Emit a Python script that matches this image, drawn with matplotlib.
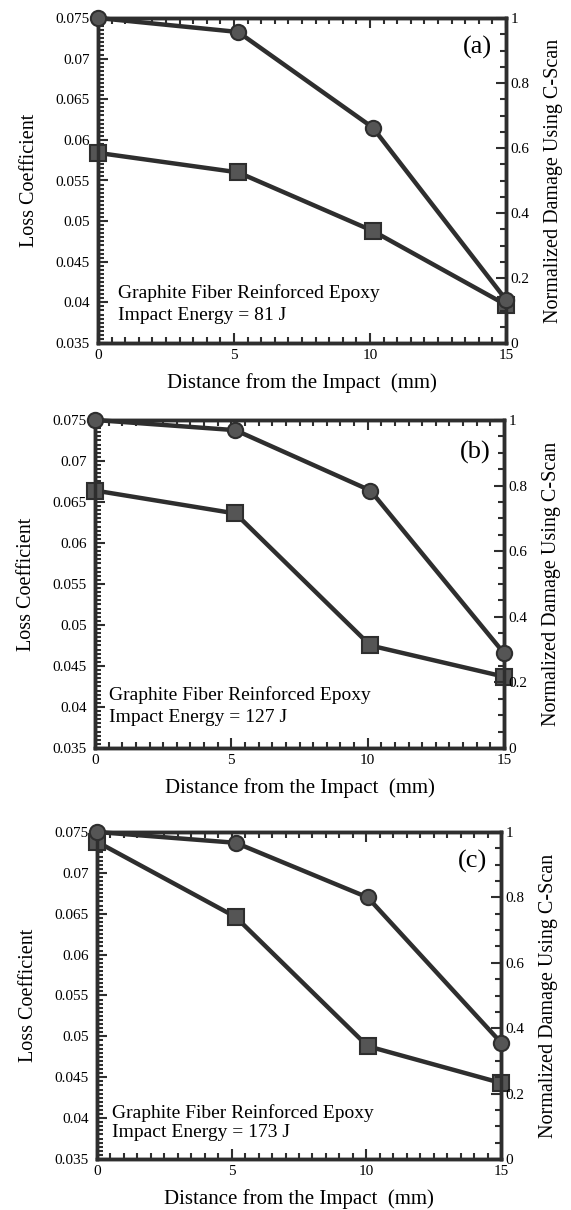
import numpy as np
import matplotlib.pyplot as plt
from matplotlib.ticker import MultipleLocator, FuncFormatter

# distance from the impact (mm)
dist_a = [0, 5.15, 10.1, 15]
dist_b = [0, 5.15, 10.1, 15]
dist_c = [0, 5.15, 10.05, 15]

# loss coefficient (squares, left axis)
loss_a = [0.0584, 0.0560, 0.0488, 0.0397]
loss_b = [0.0664, 0.0636, 0.0475, 0.0437]
loss_c = [0.0738, 0.0646, 0.0488, 0.0443]

# normalized damage (circles, right axis)
damage_a = [1.0, 0.957, 0.663, 0.133]
damage_b = [1.0, 0.969, 0.785, 0.289]
damage_c = [1.0, 0.967, 0.80, 0.356]

labels = ["(a)", "(b)", "(c)"]
energies = ["81 J", "127 J", "173 J"]

plt.rcParams['font.family'] = ['Liberation Serif', 'DejaVu Serif']

fig = plt.figure(figsize=(5.71, 12.10), dpi=100)

# axes boxes in figure fractions: [left, bottom, width, height]
boxes = [
    [98 / 571, 1 - 343 / 1210, 408 / 571, 325 / 1210],
    [95 / 571, 1 - 748 / 1210, 409 / 571, 328 / 1210],
    [97 / 571, 1 - 1159 / 1210, 404 / 571, 327 / 1210],
]
# text placement inside each panel (axes fractions)
tag_pos = [(0.93, 0.91), (0.93, 0.90), (0.93, 0.91)]
note_pos = [(0.05, 0.154, 0.086), (0.035, 0.16, 0.093), (0.037, 0.14, 0.082)]

dark = "#2e2e2e"
fill = "#555555"


def fmt_left(v, pos):
    return ("%.3f" % v).rstrip("0")


def fmt_right(v, pos):
    if abs(v) < 1e-9:
        return "0"
    if abs(v - 1) < 1e-9:
        return "1"
    return "%.1f" % v


def draw_panel(i, dist, loss, damage):
    ax = fig.add_axes(boxes[i])
    ax2 = ax.twinx()

    ax.plot(dist, loss, color=dark, lw=3.2, marker="s", ms=11.5,
            mfc=fill, mec=dark, mew=1.5, clip_on=False, zorder=3)
    ax2.plot(dist, damage, color=dark, lw=3.2, marker="o", ms=11,
             mfc=fill, mec=dark, mew=1.5, clip_on=False, zorder=3)

    ax.set_xlim(0, 15)
    ax.set_ylim(0.035, 0.075)
    ax2.set_ylim(0, 1)

    ax.xaxis.set_major_locator(MultipleLocator(5))
    ax.xaxis.set_minor_locator(MultipleLocator(0.5))
    ax.yaxis.set_major_locator(MultipleLocator(0.005))
    ax.yaxis.set_minor_locator(MultipleLocator(0.0005))
    ax2.yaxis.set_major_locator(MultipleLocator(0.2))
    ax2.yaxis.set_minor_locator(MultipleLocator(0.05))
    ax.yaxis.set_major_formatter(FuncFormatter(fmt_left))
    ax2.yaxis.set_major_formatter(FuncFormatter(fmt_right))

    ax.tick_params(axis="both", which="both", direction="in", top=True,
                   width=1.5, colors=dark, labelsize=11, labelcolor="black")
    ax.tick_params(axis="both", which="major", length=7)
    ax.tick_params(axis="both", which="minor", length=4)
    ax.tick_params(axis="x", pad=4.5)
    ax.tick_params(axis="y", pad=6)
    ax2.tick_params(axis="y", which="both", direction="in", width=1.5,
                    colors=dark, labelsize=11, labelcolor="black", pad=3.5)
    ax2.tick_params(axis="y", which="major", length=7)
    ax2.tick_params(axis="y", which="minor", length=4)

    for a in (ax, ax2):
        for sp in a.spines.values():
            sp.set_linewidth(2.5)
            sp.set_color(dark)

    ax.set_xlabel("Distance from the Impact  (mm)", fontsize=15, labelpad=8)
    ax.set_ylabel("Loss Coefficient", fontsize=14.5, labelpad=12)
    ax2.set_ylabel("Normalized Damage Using C-Scan", fontsize=14.5,
                   labelpad=10)

    tx, ty = tag_pos[i]
    ax.text(tx, ty, labels[i], transform=ax.transAxes, fontsize=19,
            ha="center", va="center")
    nx, ny1, ny2 = note_pos[i]
    ax.text(nx, ny1, "Graphite Fiber Reinforced Epoxy", transform=ax.transAxes,
            fontsize=14, ha="left", va="center")
    ax.text(nx, ny2, "Impact Energy = " + energies[i], transform=ax.transAxes,
            fontsize=14, ha="left", va="center")
    ax2.set_zorder(ax.get_zorder() + 1)
    return ax


draw_panel(0, dist_a, loss_a, damage_a)
draw_panel(1, dist_b, loss_b, damage_b)
draw_panel(2, dist_c, loss_c, damage_c)

fig.savefig("out.png", dpi=100)
